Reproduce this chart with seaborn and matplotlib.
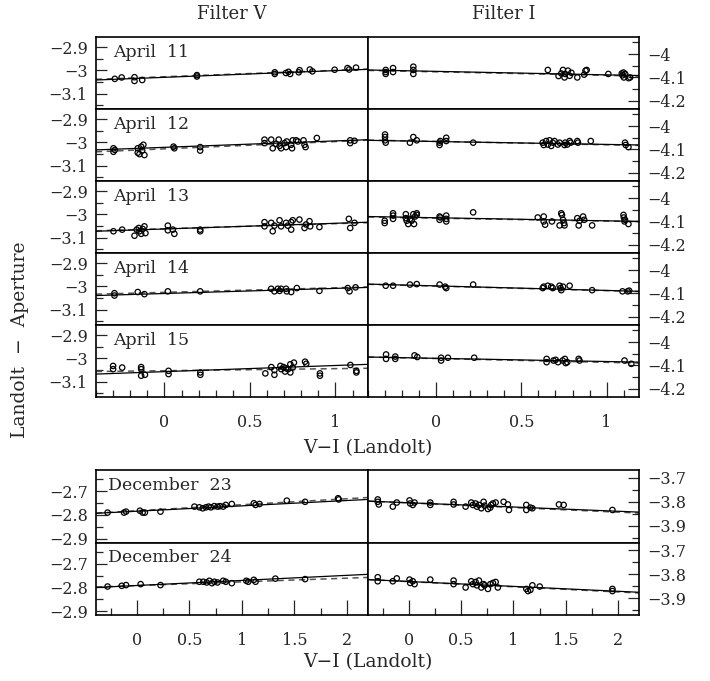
import matplotlib
matplotlib.use("Agg")
import matplotlib.pyplot as plt
import seaborn as sns
from matplotlib.ticker import MultipleLocator, FuncFormatter

sns.set_style("ticks")
plt.rcParams['font.family'] = ['DejaVu Serif']
plt.rcParams['axes.unicode_minus'] = True

# ---------------- data ----------------
night_labels = ["April  11", "April  12", "April  13", "April  14", "April  15",
                "December  23", "December  24"]
filter_titles = ["Filter V", "Filter I"]
xlabel_text = "V\u2212I (Landolt)"
ylabel_text = "Landolt  \u2212  Aperture"

apr_fit_x = [-0.40, 1.20]
dec_fit_x = [-0.39, 2.20]

# April 11
apr11_v_x = [-0.29, -0.25, -0.175, -0.175, -0.13, 0.19, 0.19, 0.645, 0.645, 0.71, 0.725, 0.735,
             0.785, 0.79, 0.85, 0.865, 0.995, 1.07, 1.08, 1.12]
apr11_v_y = [-3.036, -3.030, -3.029, -3.045, -3.041, -3.020, -3.026, -3.008, -3.015, -3.011, -3.006,
             -3.015, -3.008, -2.999, -2.996, -3.004, -2.997, -2.990, -2.996, -2.988]
apr11_v_fit = [-3.041, -2.995]
apr11_v_fit2 = [-3.038, -2.994]
apr11_i_x = [-0.296, -0.296, -0.296, -0.253, -0.253, -0.134, -0.134, -0.134, 0.655, 0.718, 0.734,
             0.744, 0.753, 0.757, 0.773, 0.783, 0.793, 0.828, 0.868, 0.876, 0.883, 1.01, 1.089,
             1.093, 1.099, 1.101, 1.109, 1.129, 1.138]
apr11_i_y = [-4.068, -4.077, -4.085, -4.060, -4.077, -4.054, -4.068, -4.085, -4.068, -4.094, -4.083,
             -4.068, -4.100, -4.085, -4.071, -4.093, -4.080, -4.100, -4.088, -4.071, -4.068, -4.085,
             -4.083, -4.091, -4.079, -4.100, -4.085, -4.103, -4.100]
apr11_i_fit = [-4.068, -4.092]
apr11_i_fit2 = [-4.070, -4.094]

# April 12
apr12_v_x = [-0.298, -0.298, -0.29, -0.156, -0.156, -0.146, -0.136, -0.13, -0.123, -0.117, 0.053,
             0.058, 0.209, 0.209, 0.585, 0.585, 0.624, 0.633, 0.653, 0.668, 0.673, 0.682, 0.702,
             0.711, 0.715, 0.741, 0.746, 0.75, 0.77, 0.78, 0.813, 0.819, 0.825, 0.891, 1.086,
             1.086, 1.111]
apr12_v_y = [-3.025, -3.040, -3.032, -3.025, -3.044, -3.050, -3.018, -3.035, -3.010, -3.054, -3.018,
             -3.025, -3.020, -3.035, -2.988, -3.003, -2.988, -3.025, -3.006, -2.988, -3.015, -3.025,
             -3.003, -3.020, -2.996, -3.010, -3.025, -2.991, -2.991, -2.996, -2.991, -3.010, -3.020,
             -2.981, -2.991, -3.003, -2.993]
apr12_v_fit = [-3.032, -2.988]
apr12_v_fit2 = [-3.040, -2.990]
apr12_i_x = [-0.30, -0.30, -0.30, -0.296, -0.154, -0.134, -0.114, 0.02, 0.02, 0.024, 0.059, 0.059,
             0.217, 0.625, 0.631, 0.645, 0.655, 0.665, 0.675, 0.684, 0.694, 0.714, 0.724, 0.753,
             0.757, 0.769, 0.783, 0.789, 0.828, 0.832, 0.907, 1.108, 1.112, 1.128]
apr12_i_y = [-4.036, -4.047, -4.061, -4.071, -4.071, -4.047, -4.061, -4.071, -4.081, -4.064, -4.050,
             -4.064, -4.071, -4.071, -4.081, -4.064, -4.079, -4.061, -4.085, -4.071, -4.064, -4.079,
             -4.071, -4.081, -4.071, -4.079, -4.064, -4.071, -4.064, -4.071, -4.064, -4.071, -4.081,
             -4.090]
apr12_i_fit = [-4.061, -4.081]
apr12_i_fit2 = [-4.060, -4.083]

# April 13
apr13_v_x = [-0.298, -0.247, -0.175, -0.162, -0.15, -0.146, -0.136, -0.127, -0.117, -0.111, 0.02,
             0.02, 0.049, 0.058, 0.209, 0.209, 0.585, 0.585, 0.624, 0.633, 0.643, 0.673, 0.682,
             0.711, 0.721, 0.741, 0.741, 0.75, 0.789, 0.819, 0.828, 0.848, 0.852, 0.906, 1.078,
             1.086, 1.111]
apr13_v_y = [-3.072, -3.065, -3.091, -3.065, -3.058, -3.072, -3.083, -3.062, -3.051, -3.080, -3.048,
             -3.068, -3.065, -3.083, -3.065, -3.072, -3.033, -3.051, -3.036, -3.072, -3.048, -3.025,
             -3.051, -3.036, -3.048, -3.033, -3.065, -3.025, -3.022, -3.058, -3.043, -3.029, -3.051,
             -3.054, -3.019, -3.058, -3.036]
apr13_v_fit = [-3.072, -3.033]
apr13_v_fit2 = [-3.070, -3.035]
apr13_i_x = [-0.302, -0.302, -0.253, -0.253, -0.253, -0.178, -0.178, -0.173, -0.164, -0.154, -0.144,
             -0.134, -0.13, -0.124, -0.114, -0.114, 0.02, 0.02, 0.024, 0.059, 0.059, 0.059, 0.217,
             0.596, 0.631, 0.631, 0.639, 0.679, 0.724, 0.734, 0.738, 0.744, 0.75, 0.753, 0.828,
             0.836, 0.842, 0.862, 0.868, 0.915, 1.099, 1.101, 1.105, 1.108, 1.128]
apr13_i_y = [-4.097, -4.107, -4.065, -4.075, -4.089, -4.069, -4.086, -4.097, -4.111, -4.089, -4.097,
             -4.069, -4.111, -4.079, -4.065, -4.072, -4.079, -4.093, -4.083, -4.075, -4.089, -4.100,
             -4.061, -4.083, -4.079, -4.100, -4.114, -4.100, -4.117, -4.065, -4.072, -4.093, -4.107,
             -4.117, -4.086, -4.117, -4.097, -4.079, -4.093, -4.117, -4.072, -4.083, -4.100, -4.093,
             -4.111]
apr13_i_fit = [-4.079, -4.100]
apr13_i_fit2 = [-4.081, -4.101]

# April 14
apr14_v_x = [-0.292, -0.292, -0.156, -0.117, 0.02, 0.209, 0.624, 0.643, 0.663, 0.673, 0.682, 0.711,
             0.715, 0.741, 0.774, 0.906, 1.072, 1.082, 1.117]
apr14_v_y = [-3.029, -3.039, -3.024, -3.033, -3.021, -3.021, -3.010, -3.021, -3.010, -3.019, -3.010,
             -3.010, -3.021, -3.024, -3.007, -3.019, -3.007, -3.021, -3.004]
apr14_v_fit = [-3.039, -3.004]
apr14_v_fit2 = [-3.033, -3.002]
apr14_i_x = [-0.296, -0.253, -0.154, -0.114, 0.02, 0.053, 0.059, 0.217, 0.625, 0.631, 0.655, 0.675,
             0.684, 0.724, 0.73, 0.734, 0.744, 0.783, 0.915, 1.093, 1.124, 1.132]
apr14_i_y = [-4.067, -4.067, -4.062, -4.060, -4.062, -4.071, -4.077, -4.062, -4.077, -4.071, -4.067,
             -4.071, -4.077, -4.067, -4.077, -4.086, -4.071, -4.067, -4.086, -4.091, -4.091, -4.088]
apr14_i_fit = [-4.060, -4.091]
apr14_i_fit2 = [-4.061, -4.092]

# April 15
apr15_v_x = [-0.30, -0.30, -0.247, -0.136, -0.136, -0.136, -0.114, 0.024, 0.024, 0.21, 0.21, 0.59,
             0.625, 0.643, 0.643, 0.678, 0.683, 0.696, 0.705, 0.71, 0.723, 0.736, 0.736, 0.75,
             0.757, 0.822, 0.829, 0.909, 0.909, 1.087, 1.122, 1.122]
apr15_v_y = [-3.032, -3.046, -3.039, -3.037, -3.046, -3.074, -3.070, -3.053, -3.067, -3.060, -3.070,
             -3.064, -3.037, -3.050, -3.070, -3.032, -3.046, -3.037, -3.056, -3.042, -3.046, -3.025,
             -3.060, -3.039, -3.018, -3.014, -3.023, -3.064, -3.074, -3.028, -3.053, -3.060]
apr15_v_fit = [-3.067, -3.025]
apr15_v_fit2 = [-3.056, -3.042]
apr15_i_x = [-0.294, -0.294, -0.24, -0.24, -0.127, -0.111, 0.029, 0.029, 0.069, 0.223, 0.648, 0.648,
             0.688, 0.701, 0.715, 0.742, 0.755, 0.76, 0.769, 0.836, 0.841, 1.105, 1.145]
apr15_i_y = [-4.053, -4.072, -4.062, -4.072, -4.057, -4.064, -4.067, -4.079, -4.067, -4.067, -4.072,
             -4.086, -4.079, -4.076, -4.086, -4.079, -4.072, -4.090, -4.086, -4.072, -4.079, -4.079,
             -4.093]
apr15_i_fit = [-4.064, -4.086]
apr15_i_fit2 = [-4.064, -4.090]

# December 23
dec23_v_x = [-0.28, -0.123, -0.104, 0.028, 0.054, 0.075, 0.224, 0.547, 0.594, 0.626, 0.657, 0.682,
             0.704, 0.736, 0.767, 0.79, 0.821, 0.846, 0.903, 1.113, 1.129, 1.167, 1.427, 1.601,
             1.915, 1.921]
dec23_v_y = [-2.790, -2.790, -2.786, -2.782, -2.790, -2.790, -2.786, -2.765, -2.768, -2.772, -2.768,
             -2.765, -2.768, -2.763, -2.765, -2.763, -2.765, -2.758, -2.754, -2.751, -2.758, -2.754,
             -2.740, -2.745, -2.730, -2.735]
dec23_v_fit = [-2.793, -2.735]
dec23_v_fit2 = [-2.792, -2.727]
dec23_i_x = [-0.297, -0.297, -0.287, -0.153, -0.115, 0.007, 0.013, 0.038, 0.055, 0.205, 0.205, 0.428,
             0.428, 0.543, 0.597, 0.612, 0.638, 0.651, 0.67, 0.693, 0.715, 0.724, 0.756, 0.779,
             0.788, 0.804, 0.83, 0.906, 0.947, 0.957, 1.123, 1.123, 1.162, 1.181, 1.435, 1.48, 1.946]
dec23_i_y = [-3.790, -3.800, -3.811, -3.820, -3.803, -3.794, -3.807, -3.813, -3.803, -3.803, -3.813,
             -3.800, -3.811, -3.820, -3.803, -3.813, -3.807, -3.820, -3.813, -3.827, -3.800, -3.816,
             -3.830, -3.824, -3.813, -3.807, -3.803, -3.800, -3.811, -3.834, -3.813, -3.834, -3.824,
             -3.827, -3.811, -3.813, -3.834]
dec23_i_fit = [-3.797, -3.843]
dec23_i_fit2 = [-3.797, -3.847]

# December 24
dec24_v_x = [-0.28, -0.145, -0.104, 0.035, 0.224, 0.594, 0.632, 0.664, 0.689, 0.714, 0.736, 0.767,
             0.821, 0.846, 0.903, 1.041, 1.06, 1.113, 1.129, 1.318, 1.601]
dec24_v_y = [-2.796, -2.793, -2.790, -2.786, -2.790, -2.776, -2.776, -2.779, -2.772, -2.782, -2.776,
             -2.779, -2.772, -2.776, -2.782, -2.772, -2.776, -2.768, -2.776, -2.763, -2.765]
dec24_v_fit = [-2.800, -2.745]
dec24_v_fit2 = [-2.798, -2.758]
dec24_i_x = [-0.297, -0.297, -0.153, -0.115, 0.007, 0.013, 0.038, 0.055, 0.205, 0.428, 0.428, 0.543,
             0.597, 0.612, 0.638, 0.651, 0.67, 0.693, 0.715, 0.724, 0.756, 0.779, 0.804, 0.83,
             0.851, 1.123, 1.139, 1.162, 1.181, 1.251, 1.946, 1.946]
dec24_i_y = [-3.812, -3.829, -3.829, -3.817, -3.822, -3.836, -3.829, -3.841, -3.822, -3.826, -3.841,
             -3.855, -3.829, -3.841, -3.832, -3.846, -3.826, -3.855, -3.841, -3.846, -3.861, -3.841,
             -3.836, -3.832, -3.855, -3.861, -3.870, -3.865, -3.846, -3.851, -3.861, -3.870]
dec24_i_fit = [-3.822, -3.875]
dec24_i_fit2 = [-3.822, -3.878]

apr_v_ylim = (-3.165, -2.857)
apr_i_ylim = (-4.235, -3.927)
apr_xlim = (-0.40, 1.19)
dec_v_ylim = (-2.915, -2.612)
dec_i_ylim = (-3.97, -3.667)
dec_xlim = (-0.39, 2.20)

panels_v = [
    (apr11_v_x, apr11_v_y, apr11_v_fit, apr11_v_fit2),
    (apr12_v_x, apr12_v_y, apr12_v_fit, apr12_v_fit2),
    (apr13_v_x, apr13_v_y, apr13_v_fit, apr13_v_fit2),
    (apr14_v_x, apr14_v_y, apr14_v_fit, apr14_v_fit2),
    (apr15_v_x, apr15_v_y, apr15_v_fit, apr15_v_fit2),
    (dec23_v_x, dec23_v_y, dec23_v_fit, dec23_v_fit2),
    (dec24_v_x, dec24_v_y, dec24_v_fit, dec24_v_fit2),
]
panels_i = [
    (apr11_i_x, apr11_i_y, apr11_i_fit, apr11_i_fit2),
    (apr12_i_x, apr12_i_y, apr12_i_fit, apr12_i_fit2),
    (apr13_i_x, apr13_i_y, apr13_i_fit, apr13_i_fit2),
    (apr14_i_x, apr14_i_y, apr14_i_fit, apr14_i_fit2),
    (apr15_i_x, apr15_i_y, apr15_i_fit, apr15_i_fit2),
    (dec23_i_x, dec23_i_y, dec23_i_fit, dec23_i_fit2),
    (dec24_i_x, dec24_i_y, dec24_i_fit, dec24_i_fit2),
]

# ---------------- layout ----------------
W, H = 710, 681
fig = plt.figure(figsize=(W / 100, H / 100), dpi=100)


def rect(x0, y0, x1, y1):
    return [x0 / W, 1 - y1 / H, (x1 - x0) / W, (y1 - y0) / H]


cols = [96, 368, 639]
row_edges = [(37, 109), (109, 181), (181, 253), (253, 325), (325, 397), (470, 542.5), (542.5, 615)]

fmt = FuncFormatter(lambda v, p: f"{v:g}".replace("-", "\u2212"))
TICK_FS = 11.5


def style_axis(ax, side, is_bottom, is_dec):
    for sp in ax.spines.values():
        sp.set_linewidth(1.2)
        sp.set_color("black")
    ax.yaxis.set_major_locator(MultipleLocator(0.1))
    ax.yaxis.set_minor_locator(MultipleLocator(0.05))
    ax.yaxis.set_major_formatter(fmt)
    if side == "left":
        ax.tick_params(axis="y", which="both", left=True, right=False,
                       labelleft=True, labelright=False, direction="in")
    else:
        ax.tick_params(axis="y", which="both", left=False, right=True,
                       labelleft=False, labelright=True, direction="in")
    ax.tick_params(axis="y", which="major", length=8, width=0.9, labelsize=TICK_FS, pad=6)
    ax.tick_params(axis="y", which="minor", length=5, width=0.9)
    ax.xaxis.set_major_locator(MultipleLocator(0.5))
    ax.xaxis.set_minor_locator(MultipleLocator(0.25 if is_dec else 0.1))
    ax.xaxis.set_major_formatter(fmt)
    ax.tick_params(axis="x", which="both", top=False, direction="in",
                   bottom=is_bottom, labelbottom=is_bottom)
    ax.tick_params(axis="x", which="major", length=11, width=0.9, labelsize=TICK_FS, pad=12)
    ax.tick_params(axis="x", which="minor", length=5, width=0.9)
    ax.set_xlabel("")
    ax.set_ylabel("")


for r in range(7):
    is_dec = r >= 5
    top, bot = row_edges[r]
    is_bottom = r in (4, 6)
    for c, (panels, side) in enumerate([(panels_v, "left"), (panels_i, "right")]):
        ax = fig.add_axes(rect(cols[c], top, cols[c + 1], bot))
        px, py, fit, fit2 = panels[r]
        fx = dec_fit_x if is_dec else apr_fit_x
        sns.lineplot(x=fx, y=fit2, ax=ax, color="#555555", lw=1.1, linestyle=(0, (4, 3)),
                     estimator=None, sort=False)
        sns.lineplot(x=fx, y=fit, ax=ax, color="black", lw=0.9,
                     estimator=None, sort=False)
        sns.scatterplot(x=px, y=py, ax=ax, marker="o", s=15, facecolor="none",
                        edgecolor="black", linewidth=0.9, zorder=3)
        ax.set_xlim(dec_xlim if is_dec else apr_xlim)
        if c == 0:
            ax.set_ylim(dec_v_ylim if is_dec else apr_v_ylim)
        else:
            ax.set_ylim(dec_i_ylim if is_dec else apr_i_ylim)
        style_axis(ax, side, is_bottom, is_dec)
        if c == 0:
            ax.text(0.045 if is_dec else 0.062, 0.79, night_labels[r], transform=ax.transAxes,
                    fontsize=12.5, ha="left", va="center")

fig.text((96 + 368) / 2 / W, 1 - 14 / H, filter_titles[0], ha="center", va="center", fontsize=13)
fig.text((368 + 639) / 2 / W, 1 - 14 / H, filter_titles[1], ha="center", va="center", fontsize=13)
fig.text(368 / W, 1 - 448 / H, xlabel_text, ha="center", va="center", fontsize=13.5)
fig.text(368 / W, 1 - 662 / H, xlabel_text, ha="center", va="center", fontsize=13.5)
fig.text(20 / W, 1 - 340 / H, ylabel_text, ha="center", va="center", rotation=90, fontsize=13.5)

fig.savefig("out.png", dpi=100, facecolor="white")
